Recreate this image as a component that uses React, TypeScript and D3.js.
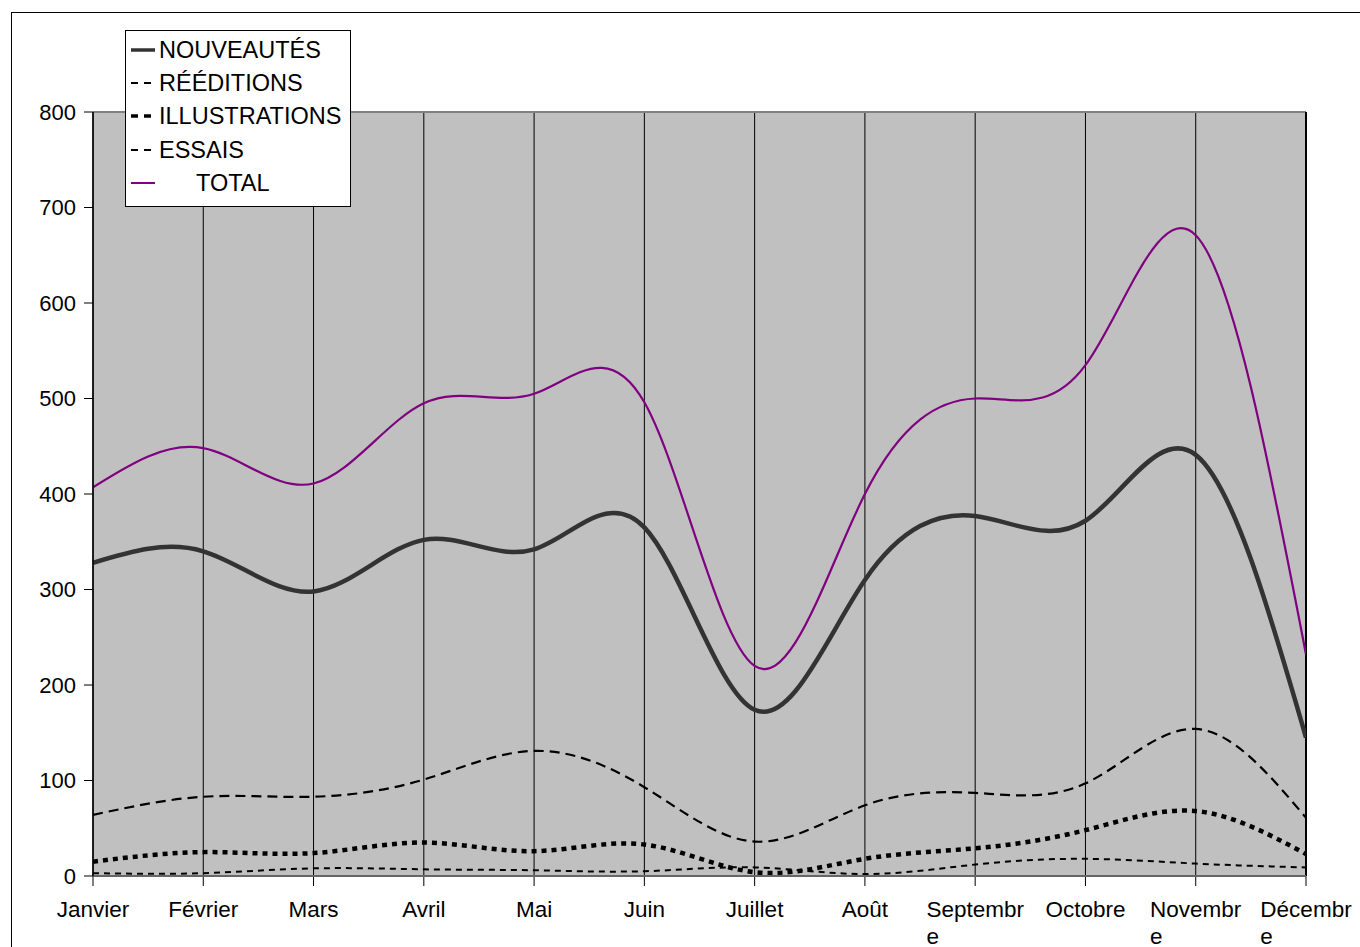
import React from "react";
import * as d3 from "d3";

const months = ["Janvier", "Février", "Mars", "Avril", "Mai", "Juin", "Juillet", "Août", "Septembre", "Octobre", "Novembre", "Décembre"];
const monthLines = [["Janvier"], ["Février"], ["Mars"], ["Avril"], ["Mai"], ["Juin"], ["Juillet"], ["Août"], ["Septembr", "e"], ["Octobre"], ["Novembr", "e"], ["Décembr", "e"]];
const nouveautes = [328, 340, 298, 352, 342, 365, 174, 310, 377, 372, 441, 145];
const reeditions = [64, 83, 83, 101, 131, 93, 36, 74, 87, 97, 154, 61];
const illustrations = [15, 25, 24, 35, 26, 33, 4, 18, 29, 48, 68, 23];
const essais = [3, 3, 8, 7, 6, 5, 9, 2, 12, 18, 13, 9];
const total = [407, 448, 411, 495, 505, 496, 220, 400, 500, 535, 671, 232];
const yTicks = [0, 100, 200, 300, 400, 500, 600, 700, 800];

const series = [
  { name: "NOUVEAUTÉS", values: nouveautes, color: "#333333", width: 4.5, dash: "", legendDash: "" },
  { name: "RÉÉDITIONS", values: reeditions, color: "#000000", width: 2.2, dash: "10,6", legendDash: "7,6" },
  { name: "ILLUSTRATIONS", values: illustrations, color: "#000000", width: 4.5, dash: "5,5", legendDash: "7,6" },
  { name: "ESSAIS", values: essais, color: "#000000", width: 2, dash: "6,5", legendDash: "7,6" },
  { name: "TOTAL", values: total, color: "#800080", width: 2.2, dash: "", legendDash: "" },
];

const FONT = "'Liberation Sans', Arial, sans-serif";
const LABEL_SIZE = 22.5;

function measure(text: string, size: number): number {
  if (typeof document === "undefined") return text.length * size * 0.55;
  const c = document.createElement("canvas").getContext("2d");
  if (!c) return text.length * size * 0.55;
  c.font = `${size}px 'Liberation Sans', Arial, sans-serif`;
  return c.measureText(text).width;
}

export default function App() {
  const left = 93, right = 1306, top = 112, bottom = 876;
  const x = d3.scalePoint<string>().domain(months).range([left, right]);
  const y = d3.scaleLinear().domain([0, 800]).range([bottom, top]);
  const line = d3
    .line<number>()
    .x((_, i) => x(months[i]) as number)
    .y((d) => y(d))
    .curve(d3.curveNatural);

  const legendRows = [50, 83, 116, 150, 183];

  return (
    <svg width={1360} height={947} style={{ position: "absolute", left: 0, top: 0, background: "#fff" }} fontFamily={FONT}>
      <rect x={11.5} y={12.5} width={1360} height={960} fill="#fff" stroke="#000" strokeWidth={1} />
      <defs>
        <clipPath id="plot">
          <rect x={left} y={top - 2} width={right - left} height={bottom - top + 4} />
        </clipPath>
      </defs>
      <rect x={left} y={top} width={right - left} height={bottom - top} fill="#c0c0c0" />
      {months.map((m) => (
        <line key={m} x1={x(m)} x2={x(m)} y1={top} y2={bottom + 10} stroke="#000" strokeWidth={1} />
      ))}
      <line x1={left} x2={right} y1={top} y2={top} stroke="#808080" strokeWidth={2} />
      <line x1={right} x2={right} y1={top} y2={bottom} stroke="#000" strokeWidth={2} />
      <g clipPath="url(#plot)">
        {series.map((s) => (
          <path
            key={s.name}
            d={line(s.values) || ""}
            fill="none"
            stroke={s.color}
            strokeWidth={s.width}
            strokeDasharray={s.dash || undefined}
            strokeLinejoin="round"
          />
        ))}
      </g>
      <line x1={left} x2={right} y1={bottom} y2={bottom} stroke="#666" strokeWidth={2} />
      <line x1={left} x2={left} y1={top} y2={bottom} stroke="#000" strokeWidth={1.5} />
      {yTicks.map((t) => (
        <g key={t}>
          <line x1={84} x2={left} y1={y(t)} y2={y(t)} stroke="#000" strokeWidth={1} />
          <text x={76} y={y(t)} dy="0.35em" textAnchor="end" fontSize={22} fill="#000">
            {t}
          </text>
        </g>
      ))}
      {monthLines.map((ls, i) => {
        const cx = x(months[i]) as number;
        const w = measure(ls[0], LABEL_SIZE);
        const startX = cx - w / 2;
        return (
          <g key={months[i]}>
            <text x={cx} y={917} textAnchor="middle" fontSize={LABEL_SIZE} fill="#000">
              {ls[0]}
            </text>
            {ls.length > 1 && (
              <text x={startX} y={944} textAnchor="start" fontSize={LABEL_SIZE} fill="#000">
                {ls[1]}
              </text>
            )}
          </g>
        );
      })}
      <g>
        <rect x={125.5} y={30.5} width={225} height={176} fill="#fff" stroke="#000" strokeWidth={1} />
        {series.map((s, i) => (
          <g key={s.name}>
            <line
              x1={131}
              x2={155}
              y1={legendRows[i]}
              y2={legendRows[i]}
              stroke={s.color}
              strokeWidth={i === 0 || i === 2 ? 3.5 : 2}
              strokeDasharray={s.legendDash || undefined}
            />
            <text x={i === 4 ? 196 : 159} y={legendRows[i]} dy="0.36em" fontSize={23.5} fill="#000">
              {s.name}
            </text>
          </g>
        ))}
      </g>
    </svg>
  );
}
